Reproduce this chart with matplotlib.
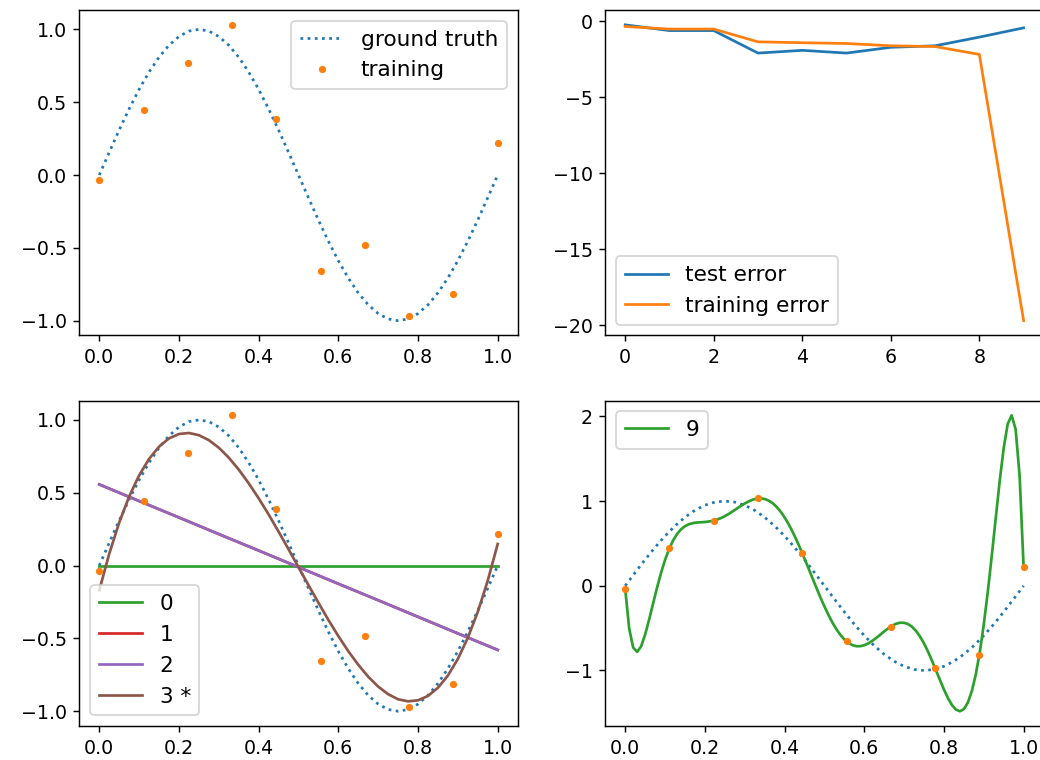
import numpy as np
import matplotlib
matplotlib.use("Agg")
import matplotlib.pyplot as plt
from matplotlib.ticker import MultipleLocator

plt.rcParams["font.size"] = 10.5
plt.rcParams["legend.fontsize"] = 12

# Training samples (10 points on [0, 1])
x_train = np.linspace(0, 1, 10)
y_train = [-0.034, 0.444, 0.770, 1.031, 0.385, -0.657, -0.481, -0.971, -0.816, 0.218]

# Ground truth curve, sampled every 0.025
x_truth = np.linspace(0, 1, 41)
y_truth = [0.0, 0.156, 0.309, 0.454, 0.588, 0.707, 0.809, 0.891, 0.951, 0.988,
           1.0, 0.988, 0.951, 0.891, 0.809, 0.707, 0.588, 0.454, 0.309, 0.156,
           0.0, -0.156, -0.309, -0.454, -0.588, -0.707, -0.809, -0.891, -0.951, -0.988,
           -1.0, -0.988, -0.951, -0.891, -0.809, -0.707, -0.588, -0.454, -0.309, -0.156,
           0.0]

# Log errors per polynomial degree
degrees = np.arange(10)
test_error = [-0.22, -0.60, -0.60, -2.08, -1.90, -2.08, -1.70, -1.60, -1.03, -0.42]
train_error = [-0.33, -0.50, -0.50, -1.34, -1.40, -1.45, -1.60, -1.65, -2.17, -19.7]

# Fitted polynomials of low degree
x_fit = np.linspace(0, 1, 11)
fit_0 = [0.0] * 11
fit_1 = [0.557, 0.443, 0.330, 0.216, 0.103, -0.011, -0.125, -0.238, -0.352, -0.466, -0.579]
fit_2 = [0.557, 0.443, 0.330, 0.216, 0.103, -0.011, -0.125, -0.238, -0.352, -0.466, -0.579]
x_fit3 = np.linspace(0, 1, 41)
fit_3 = [-0.170, 0.081, 0.295, 0.474, 0.619, 0.732, 0.816, 0.873, 0.903, 0.910,
         0.895, 0.861, 0.809, 0.741, 0.659, 0.565, 0.462, 0.351, 0.233, 0.112,
         -0.011, -0.134, -0.255, -0.373, -0.484, -0.588, -0.681, -0.763, -0.831, -0.883,
         -0.918, -0.932, -0.925, -0.895, -0.839, -0.755, -0.641, -0.496, -0.318, -0.104,
         0.148]

# Degree 9 fit (passes through every training point)
x_fit9 = np.linspace(0, 1, 101)
fit_9 = [-0.034, -0.504, -0.729, -0.780, -0.715, -0.577, -0.400, -0.209, -0.021, 0.153,
         0.305, 0.431, 0.533, 0.610, 0.666, 0.703, 0.727, 0.740, 0.747, 0.750,
         0.753, 0.759, 0.767, 0.781, 0.799, 0.822, 0.849, 0.879, 0.911, 0.942,
         0.971, 0.997, 1.017, 1.029, 1.032, 1.025, 1.006, 0.976, 0.932, 0.876,
         0.808, 0.729, 0.639, 0.540, 0.434, 0.322, 0.207, 0.091, -0.024, -0.137,
         -0.243, -0.343, -0.433, -0.512, -0.579, -0.633, -0.673, -0.700, -0.713, -0.713,
         -0.702, -0.681, -0.651, -0.616, -0.578, -0.539, -0.503, -0.471, -0.448, -0.436,
         -0.437, -0.452, -0.484, -0.533, -0.599, -0.680, -0.776, -0.883, -0.997, -1.112,
         -1.224, -1.325, -1.407, -1.461, -1.481, -1.456, -1.379, -1.244, -1.046, -0.784,
         -0.458, -0.075, 0.350, 0.798, 1.237, 1.626, 1.909, 2.012, 1.846, 1.294,
         0.218]

fig, axes = plt.subplots(2, 2, figsize=(8, 760 / 130), dpi=130)
fig.subplots_adjust(left=0.0763, right=1.0034, top=0.9868, bottom=0.0447,
                    wspace=0.2, hspace=0.2)

# Ground truth and training data
ax = axes[0, 0]
ax.plot(x_truth, y_truth, ":", color="C0", label="ground truth")
ax.plot(x_train, y_train, ".", color="C1", label="training")
ax.yaxis.set_major_locator(MultipleLocator(0.5))
ax.legend(loc="upper right")

# Errors
ax = axes[0, 1]
ax.plot(degrees, test_error, color="C0", label="test error")
ax.plot(degrees, train_error, color="C1", label="training error")
ax.yaxis.set_major_locator(MultipleLocator(5))
ax.legend(loc="lower left")

# Low degree fits
ax = axes[1, 0]
ax.plot(x_truth, y_truth, ":", color="C0")
ax.plot(x_fit, fit_0, color="C2", label="0")
ax.plot(x_fit, fit_1, color="C3", label="1")
ax.plot(x_fit, fit_2, color="C4", label="2")
ax.plot(x_fit3, fit_3, color="C5", label="3 *")
ax.plot(x_train, y_train, ".", color="C1")
ax.yaxis.set_major_locator(MultipleLocator(0.5))
ax.legend(loc="lower left")

# Overfitted degree 9
ax = axes[1, 1]
ax.plot(x_truth, y_truth, ":", color="C0")
ax.plot(x_fit9, fit_9, color="C2", label="9")
ax.plot(x_train, y_train, ".", color="C1")
ax.yaxis.set_major_locator(MultipleLocator(1))
ax.legend(loc="upper left")

fig.savefig("out.png", dpi=130)
